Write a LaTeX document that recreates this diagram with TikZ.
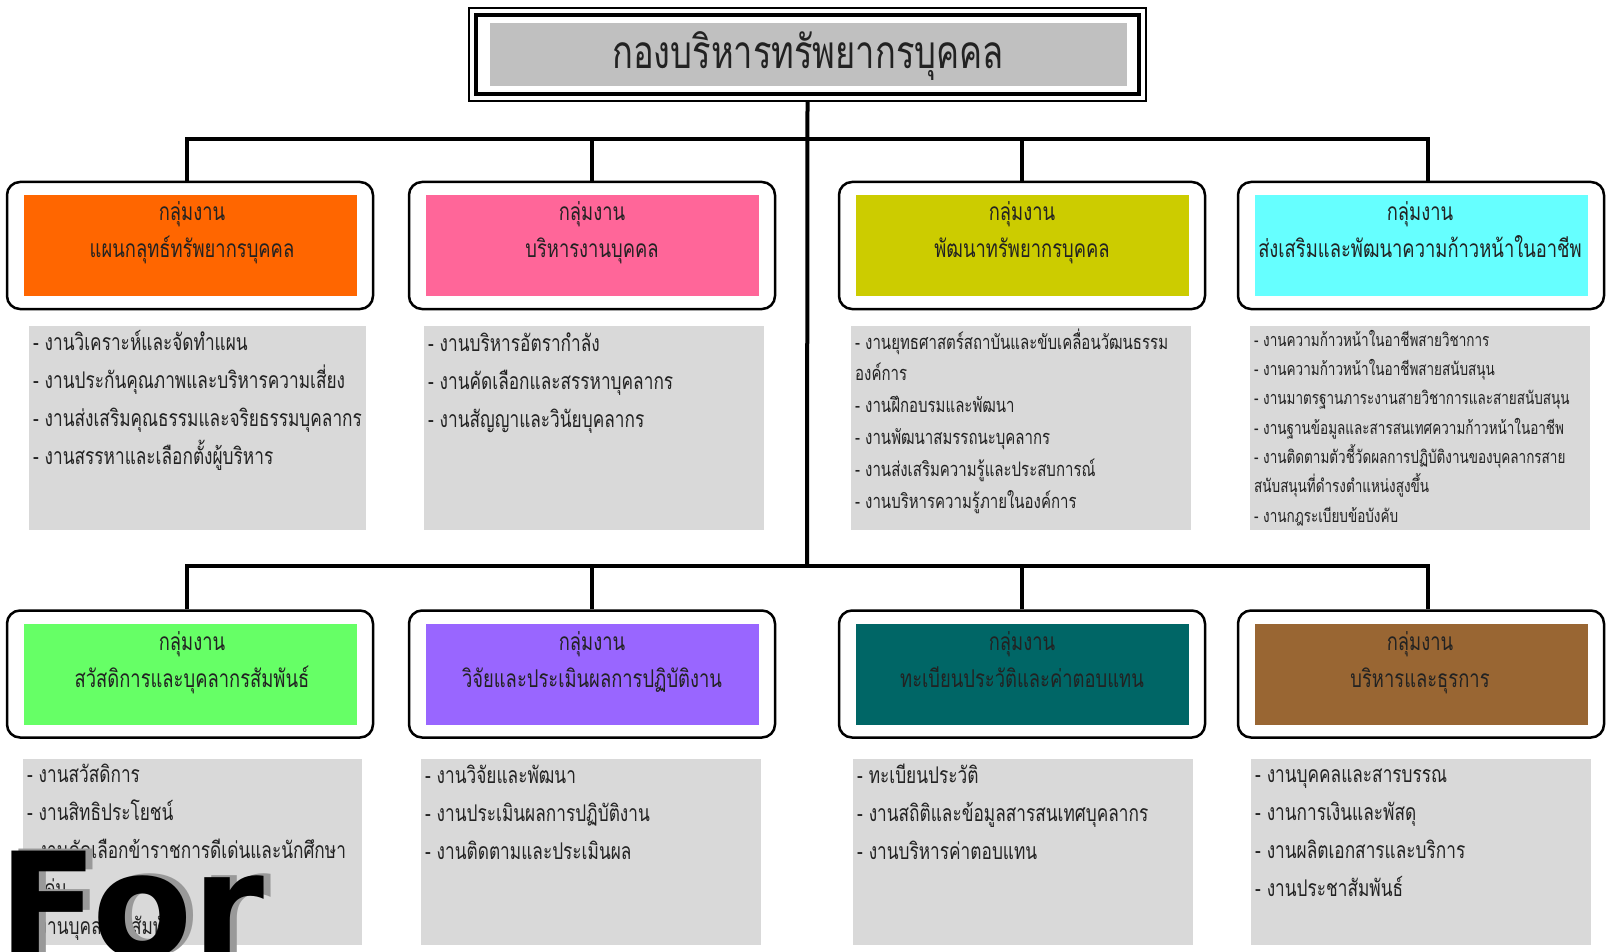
\documentclass[tikz,border=0pt]{standalone}
\usepackage{fontspec}
\setmainfont{Liberation Sans}
\newfontfamily\thaifont[Script=Thai,FakeStretch=0.75]{Loma}
\newfontfamily\forfont{DejaVu Sans}
\usetikzlibrary{positioning}

\definecolor{hrorange}{HTML}{FF6600}
\definecolor{hrpink}{HTML}{FF6699}
\definecolor{hrolive}{HTML}{CCCC00}
\definecolor{hrcyan}{HTML}{66FFFF}
\definecolor{hrgreen}{HTML}{66FF66}
\definecolor{hrpurple}{HTML}{9966FF}
\definecolor{hrteal}{HTML}{006666}
\definecolor{hrbrown}{HTML}{996633}
\definecolor{listgray}{HTML}{D9D9D9}
\definecolor{titlegray}{HTML}{C0C0C0}
\definecolor{ink}{HTML}{222222}

\tikzset{
  bus/.style={line width=4pt},
  frame/.style={draw, line width=2.5pt, rounded corners=13pt, fill=white,
    minimum width=366pt, minimum height=127pt},
  band/.style={minimum width=333pt, minimum height=101pt, inner sep=0pt},
  headtxt/.style={anchor=base, align=center, inner sep=0pt, text=ink,
    font=\thaifont\fontsize{24.5}{37}\selectfont},
  listbox/.style={fill=listgray, minimum width=340pt, inner sep=0pt},
  listtxt/.style={anchor=base west, align=left, inner sep=0pt, text=ink,
    font=\thaifont\fontsize{23}{38}\selectfont},
}

\begin{document}
\begin{tikzpicture}[x=1pt, y=-1pt]
        \clip (0,0) rectangle (1614,952);
        \fill[white] (0,0) rectangle (1614,952);

        % head office
        \node[draw, line width=1.2pt, minimum width=677pt, minimum height=93pt] (titleframe) at (807.5, 54.5) {};
        \node[draw, line width=4.5pt, minimum width=663pt, minimum height=79pt] (titleinner) at (807.5, 54.5) {};
        \node[fill=titlegray, minimum width=637pt, minimum height=63pt, inner sep=0pt] (title) at (808.5, 54.5) {};
        \node[anchor=base, text=ink, inner sep=0pt, font=\thaifont\fontsize{46}{46}\selectfont] (titletxt) at (808, 69) {กองบริหารทรัพยากรบุคคล};

        \coordinate (busA) at (807, 139);
        \coordinate (trunk) at (807, 566);

        % group frames
        \node[frame] (g1) at (190, 245.5) {};
        \node[frame] (g2) at (592, 245.5) {};
        \node[frame] (g3) at (1022, 245.5) {};
        \node[frame] (g4) at (1421, 245.5) {};
        \node[frame] (h1) at (190, 674) {};
        \node[frame] (h2) at (592, 674) {};
        \node[frame] (h3) at (1022, 674) {};
        \node[frame] (h4) at (1421, 674) {};

        \draw[bus] (titleframe.south) -- (trunk);
        \draw[bus] ([xshift=-3pt]g1.north) |- (busA) -| ([xshift=7pt]g4.north);
        \draw[bus] (g2.north) |- (busA);
        \draw[bus] (g3.north) |- (busA);
        \draw[bus] ([xshift=-3pt]h1.north) |- (trunk) -| ([xshift=7pt]h4.north);
        \draw[bus] (h2.north) |- (trunk);
        \draw[bus] (h3.north) |- (trunk);

        % coloured bands
        \node[band, fill=hrorange] (c1) at (g1) {};
        \node[band, fill=hrpink] (c2) at (g2) {};
        \node[band, fill=hrolive] (c3) at (g3) {};
        \node[band, fill=hrcyan] (c4) at (g4) {};
        \node[band, fill=hrgreen] (d1) at (h1) {};
        \node[band, fill=hrpurple] (d2) at (h2) {};
        \node[band, fill=hrteal] (d3) at (h3) {};
        \node[band, fill=hrbrown] (d4) at (h4) {};

        \node[headtxt] (t1) at (192, 258) {กลุ่มงาน\\แผนกลุทธ์ทรัพยากรบุคคล};
        \node[headtxt] (t2) at (592, 258) {กลุ่มงาน\\บริหารงานบุคคล};
        \node[headtxt] (t3) at (1022, 258) {กลุ่มงาน\\พัฒนาทรัพยากรบุคคล};
        \node[headtxt] (t4) at (1420, 258) {กลุ่มงาน\\ส่งเสริมและพัฒนาความก้าวหน้าในอาชีพ};
        \node[headtxt] (u1) at (192, 687) {กลุ่มงาน\\สวัสดิการและบุคลากรสัมพันธ์};
        \node[headtxt] (u2) at (592, 687) {กลุ่มงาน\\วิจัยและประเมินผลการปฏิบัติงาน};
        \node[headtxt] (u3) at (1022, 687) {กลุ่มงาน\\ทะเบียนประวัติและค่าตอบแทน};
        \node[headtxt] (u4) at (1420, 687) {กลุ่มงาน\\บริหารและธุรการ};

        % task lists
        \node[listbox, minimum width=337pt, minimum height=204pt] (l1) at (197.5, 428) {};
        \node[listbox, minimum height=204pt] (l2) at (594, 428) {};
        \node[listbox, minimum height=204pt] (l3) at (1021, 428) {};
        \node[listbox, minimum height=204pt] (l4) at (1420, 428) {};
        \node[listbox, minimum width=339pt, minimum height=186pt] (m1) at (192.5, 852) {};
        \node[listbox, minimum height=186pt] (m2) at (591, 852) {};
        \node[listbox, minimum height=186pt] (m3) at (1023, 852) {};
        \node[listbox, minimum height=186pt] (m4) at (1420.5, 852) {};

        \node[listtxt] (s1) at (33, 464) {- งานวิเคราะห์และจัดทำแผน\\- งานประกันคุณภาพและบริหารความเสี่ยง\\- งานส่งเสริมคุณธรรมและจริยธรรมบุคลากร\\- งานสรรหาและเลือกตั้งผู้บริหาร};
        \node[listtxt] (s2) at (428, 427) {- งานบริหารอัตรากำลัง\\- งานคัดเลือกและสรรหาบุคลากร\\- งานสัญญาและวินัยบุคลากร};
        \node[listtxt, font=\thaifont\fontsize{20}{31.8}\selectfont] (s3) at (855, 508) {- งานยุทธศาสตร์สถาบันและขับเคลื่อนวัฒนธรรม\\องค์การ\\- งานฝึกอบรมและพัฒนา\\- งานพัฒนาสมรรถนะบุคลากร\\- งานส่งเสริมความรู้และประสบการณ์\\- งานบริหารความรู้ภายในองค์การ};
        \node[listtxt, font=\thaifont\fontsize{18}{29.3}\selectfont] (s4) at (1254, 522) {- งานความก้าวหน้าในอาชีพสายวิชาการ\\- งานความก้าวหน้าในอาชีพสายสนับสนุน\\- งานมาตรฐานภาระงานสายวิชาการและสายสนับสนุน\\- งานฐานข้อมูลและสารสนเทศความก้าวหน้าในอาชีพ\\- งานติดตามตัวชี้วัดผลการปฏิบัติงานของบุคลากรสาย\\สนับสนุนที่ดำรงตำแหน่งสูงขึ้น\\- งานกฎระเบียบข้อบังคับ};
        \node[listtxt] (r1) at (27, 934) {- งานสวัสดิการ\\- งานสิทธิประโยชน์\\- งานคัดเลือกข้าราชการดีเด่นและนักศึกษา\\ดีเด่น\\- งานบุคลากรสัมพันธ์};
        \node[listtxt] (r2) at (425, 859) {- งานวิจัยและพัฒนา\\- งานประเมินผลการปฏิบัติงาน\\- งานติดตามและประเมินผล};
        \node[listtxt] (r3) at (857, 859) {- ทะเบียนประวัติ\\- งานสถิติและข้อมูลสารสนเทศบุคลากร\\- งานบริหารค่าตอบแทน};
        \node[listtxt] (r4) at (1255, 896) {- งานบุคคลและสารบรรณ\\- งานการเงินและพัสดุ\\- งานผลิตเอกสารและบริการ\\- งานประชาสัมพันธ์};

        % overlay
        \node[anchor=base west, inner sep=0pt, text=gray!80, font=\forfont\bfseries\fontsize{146}{146}\selectfont] (forshade) at (5, 955) {For};
        \node[anchor=base west, inner sep=0pt, text=black, font=\forfont\bfseries\fontsize{146}{146}\selectfont] (fortxt) at (-2, 957) {For};
    \end{tikzpicture}
\end{document}
